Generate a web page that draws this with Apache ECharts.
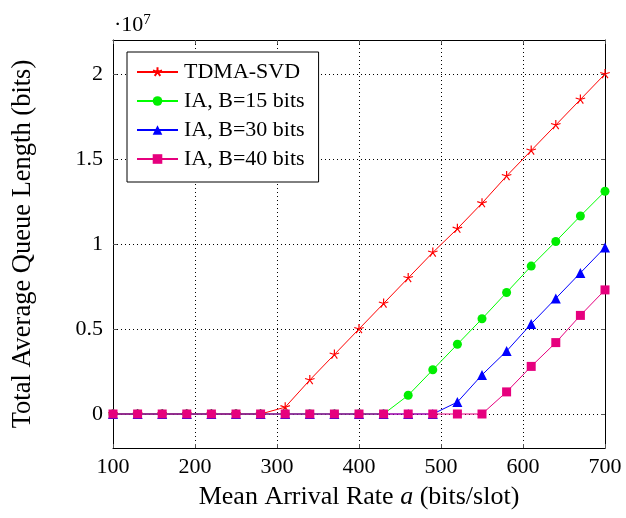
<!DOCTYPE html>
<html><head><meta charset="utf-8">
<script src="https://cdn.jsdelivr.net/npm/echarts@6/dist/echarts.min.js"></script>
<style>html,body{margin:0;padding:0;background:#fff}#c{width:626px;height:518px}</style>
</head><body><div id="c"></div>
<script>
const arrivalRate = [100,130,160,190,220,250,280,310,340,370,400,430,460,490,520,550,580,610,640,670,700];
const tdmaSvd = [0,0,0,0,0,0,0,0.04,0.20,0.35,0.50,0.65,0.80,0.95,1.09,1.24,1.40,1.55,1.70,1.85,2.00];
const iaB15  = [0,0,0,0,0,0,0,0,0,0,0,0,0.11,0.26,0.41,0.56,0.715,0.87,1.015,1.165,1.31];
const iaB30  = [0,0,0,0,0,0,0,0,0,0,0,0,0,0,0.07,0.23,0.37,0.53,0.68,0.83,0.98];
const iaB40  = [0,0,0,0,0,0,0,0,0,0,0,0,0,0,0,0,0.13,0.28,0.42,0.58,0.73];
const seriesNames = ['TDMA-SVD','IA, B=15 bits','IA, B=30 bits','IA, B=40 bits'];
const xTicks = [100,200,300,400,500,600,700];
const yTicks = [0,0.5,1,1.5,2];

const font = 'Liberation Serif';
const starPath = (function(){
  let d='';
  for(let i=0;i<5;i++){const a=(90+72*i)*Math.PI/180;d+='M50 50 L'+(50+50*Math.cos(a)).toFixed(2)+' '+(50-50*Math.sin(a)).toFixed(2)+' ';}
  return 'path://'+d+'M0 0 M100 100';
})();
const pairs = arr => arr.map((v,i)=>[arrivalRate[i],v]);
const gridLine = {show:true,lineStyle:{color:'#000',type:[1,3],width:1}};
const chart = echarts.init(document.getElementById('c'),null,{renderer:'canvas'});
chart.setOption({
  animation:false,
  backgroundColor:'#fff',
  grid:{left:113,right:21,top:40,bottom:70,containLabel:false},
  xAxis:[{type:'value',min:100,max:700,interval:100,
    axisLine:{show:true,onZero:false,lineStyle:{color:'#000',width:1}},
    axisTick:{show:true,inside:true,length:4,lineStyle:{color:'#555'}},
    axisLabel:{color:'#000',fontFamily:font,fontSize:22,margin:8,
      customValues:xTicks},
    splitLine:gridLine,
    name:'Mean Arrival Rate {i|a} (bits/slot)',nameLocation:'middle',nameGap:36,
    nameTextStyle:{color:'#000',fontFamily:font,fontSize:26,rich:{i:{fontStyle:'italic',fontFamily:font,fontSize:26}}}
  },{type:'value',position:'top',min:100,max:700,interval:100,
    axisLine:{show:true,onZero:false,lineStyle:{color:'#000',width:1}},
    axisTick:{show:true,inside:true,length:4,lineStyle:{color:'#555'}},
    axisLabel:{show:false},splitLine:{show:false}}],
  yAxis:[{type:'value',min:-0.2,max:2.2,interval:0.5,
    axisLine:{show:true,onZero:false,lineStyle:{color:'#000',width:1}},
    axisTick:{show:true,inside:true,length:4,lineStyle:{color:'#555'},customValues:yTicks},
    axisLabel:{color:'#000',fontFamily:font,fontSize:22,margin:10,customValues:yTicks,
      formatter:v=>String(Math.round(v*10)/10)},
    splitLine:gridLine,
    name:'Total Average Queue Length (bits)',nameLocation:'middle',nameGap:76,nameRotate:90,
    nameTextStyle:{color:'#000',fontFamily:font,fontSize:26.5}
  },{type:'value',position:'right',min:-0.2,max:2.2,interval:0.5,
    axisLine:{show:true,onZero:false,lineStyle:{color:'#000',width:1}},
    axisTick:{show:true,inside:true,length:4,lineStyle:{color:'#555'},customValues:yTicks},
    axisLabel:{show:false},splitLine:{show:false}}],
  legend:{left:127,top:52,orient:'vertical',backgroundColor:'#fff',borderColor:'#000',borderWidth:1,borderRadius:0,
    padding:[9,14,12,9],itemWidth:41,itemHeight:12,itemGap:7,
    textStyle:{color:'#000',fontFamily:font,fontSize:22,padding:[0,0,0,1]},
    data:seriesNames},
  graphic:[{type:'text',left:114,top:13,style:{text:'·10{s|7}',fontFamily:font,fontSize:22,fill:'#000',
    rich:{s:{fontSize:15,fontFamily:font,verticalAlign:'top',padding:[0,0,9,0]}}}}],
  series:[
    {name:seriesNames[0],type:'line',data:pairs(tdmaSvd),color:'#ff0000',symbol:starPath,symbolSize:10,
     lineStyle:{width:1},itemStyle:{color:'#ff0000',borderColor:'#ff0000',borderWidth:1.2},z:2},
    {name:seriesNames[1],type:'line',data:pairs(iaB15),color:'#00ee00',symbol:'circle',symbolSize:9,
     lineStyle:{width:1,color:'#00ff00'},itemStyle:{color:'#00ee00'},z:3},
    {name:seriesNames[2],type:'line',data:pairs(iaB30),color:'#0000ff',symbol:'triangle',symbolSize:10,
     lineStyle:{width:1},itemStyle:{color:'#0000ff'},z:4},
    {name:seriesNames[3],type:'line',data:pairs(iaB40),color:'#e6007e',symbol:'rect',symbolSize:9,
     lineStyle:{width:1},itemStyle:{color:'#e6007e'},z:5}
  ]
});
</script></body></html>
